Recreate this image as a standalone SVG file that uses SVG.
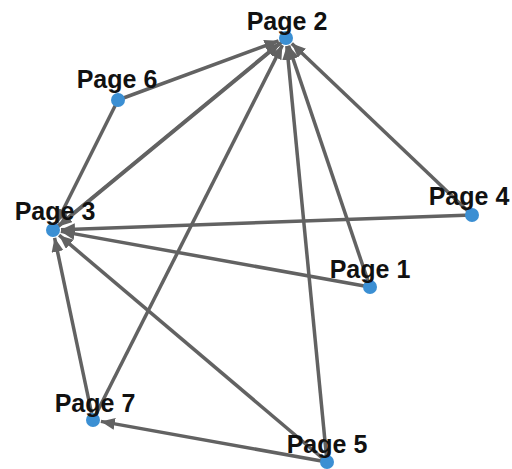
<svg xmlns="http://www.w3.org/2000/svg" width="512" height="469" viewBox="0 0 512 469">
<style>
.e{stroke:#626262;stroke-width:3.5;fill:none;marker-end:url(#ah)}
.n{fill:#3b8fd3}
.t{font-family:"Liberation Sans",Arial,sans-serif;font-weight:bold;font-size:25px;fill:#111;text-anchor:middle}
</style>
<defs>
<marker id="ah" markerUnits="userSpaceOnUse" markerWidth="16" markerHeight="14" refX="14" refY="6" orient="auto">
<path d="M0,0 L14,6 L0,12 z" fill="#626262"/>
</marker>
</defs>
<rect width="512" height="469" fill="#fff"/>
<g id="edges">
<line class="e" x1="118" y1="100" x2="278.5" y2="40.8"/>
<line class="e" x1="53" y1="230" x2="279.8" y2="43.1"/>
<line class="e" x1="285" y1="39.5" x2="58.2" y2="226.4"/>
<line class="e" x1="118" y1="100" x2="56.6" y2="222.8"/>
<line class="e" x1="472" y1="215" x2="291.8" y2="43.5"/>
<line class="e" x1="472" y1="215" x2="61" y2="229.7"/>
<line class="e" x1="370" y1="287" x2="288.6" y2="45.6"/>
<line class="e" x1="370" y1="287" x2="60.9" y2="231.4"/>
<line class="e" x1="327" y1="462" x2="286.8" y2="46"/>
<line class="e" x1="327" y1="462" x2="59.1" y2="235.2"/>
<line class="e" x1="327" y1="462" x2="100.9" y2="421.4"/>
<line class="e" x1="93" y1="420" x2="282.4" y2="45.1"/>
<line class="e" x1="93" y1="420" x2="54.6" y2="237.8"/>
</g>
<g id="page2"><circle class="n" cx="286" cy="38" r="7"/><text class="t" x="287" y="30">Page 2</text></g>
<g id="page6"><circle class="n" cx="118" cy="100" r="7"/><text class="t" x="117" y="88">Page 6</text></g>
<g id="page3"><circle class="n" cx="53" cy="230" r="7"/><text class="t" x="55" y="220">Page 3</text></g>
<g id="page4"><circle class="n" cx="472" cy="215" r="7"/><text class="t" x="469" y="205">Page 4</text></g>
<g id="page1"><circle class="n" cx="370" cy="287" r="7"/><text class="t" x="370" y="278">Page 1</text></g>
<g id="page7"><circle class="n" cx="93" cy="420" r="7"/><text class="t" x="95" y="412">Page 7</text></g>
<g id="page5"><circle class="n" cx="327" cy="462" r="7"/><text class="t" x="327" y="453">Page 5</text></g>
</svg>
